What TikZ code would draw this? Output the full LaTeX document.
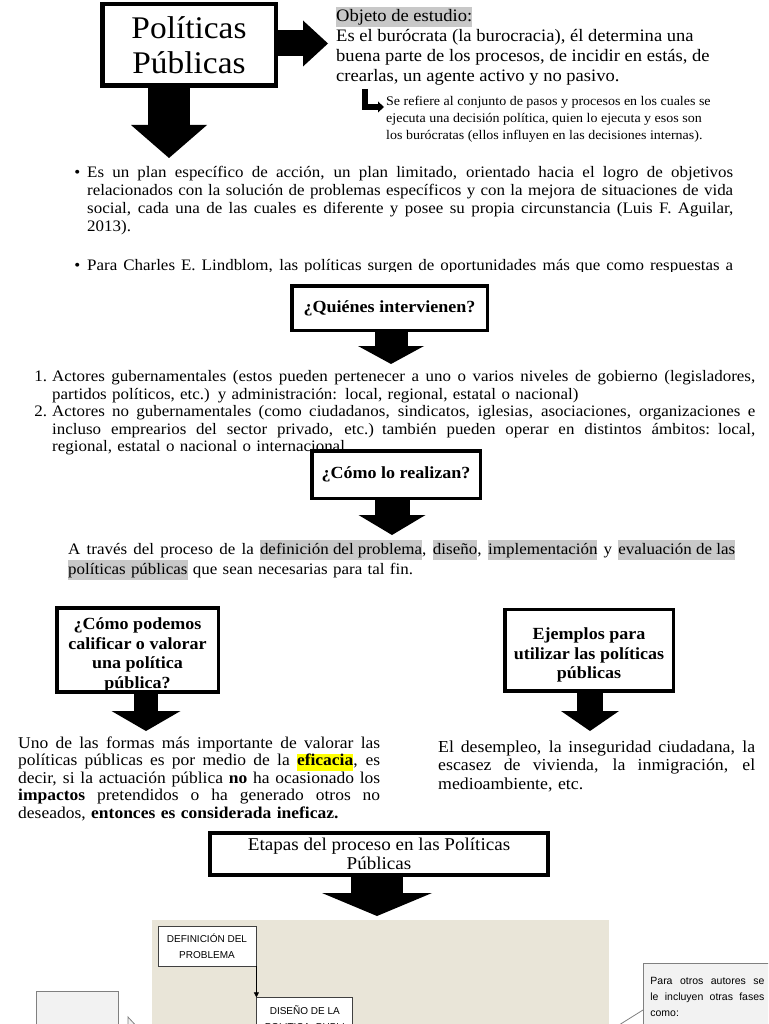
\documentclass[tikz,border=0pt]{standalone}
\usepackage{fontspec}
\setmainfont{Liberation Serif}[FakeStretch=1.06]
\setsansfont{Liberation Sans}
\usetikzlibrary{arrows.meta,positioning,calc}
\definecolor{hlgray}{RGB}{200,200,200}
\definecolor{hlyellow}{RGB}{255,255,0}
\definecolor{panelbg}{RGB}{233,229,216}
\definecolor{notefill}{RGB}{242,242,242}
\definecolor{noteline}{RGB}{128,128,128}
\setlength{\parindent}{0pt}
\setlength{\fboxsep}{0pt}
\newcommand{\hlg}[1]{\colorbox{hlgray}{\strut#1}}
\newcommand{\hly}[1]{\colorbox{hlyellow}{\strut#1}}
\newcommand{\jl}[1]{\leavevmode\hbox to \hsize{\spaceskip=\fontdimen2\font plus 1fil\relax\strut#1}}
\tikzset{
  qbox/.style={draw, line width=3.5pt, fill=white, align=center, inner sep=0pt,
    font=\bfseries\fontsize{17}{19.5}\selectfont},
  txt/.style={anchor=north west, inner sep=0pt, align=left},
  blockarrow/.style n args={3}{line width=#1pt,
    -{Triangle[width=#2pt,length=#3pt,line width=0pt]}},
  stagebox/.style={draw=black!75, line width=0.8pt, fill=white, align=center,
    font=\sffamily\fontsize{10}{16}\selectfont},
  notebox/.style={draw=noteline, line width=0.8pt, fill=notefill},
}

\begin{document}
\begin{tikzpicture}[x=1pt, y=-1pt]
  \useasboundingbox (0,0) rectangle (768,1024);
  \clip (0,0) rectangle (768,1024);

  % title and object of study
  \node[qbox, line width=4.5pt, font=\fontsize{31.5}{35}\selectfont,
        minimum width=173.5pt, minimum height=81.5pt] (pp) at (189,45) {Políticas\\Públicas};
  \node[txt, font=\fontsize{17.5}{20}\selectfont] (obj) at (336,7)
       {\hlg{Objeto de estudio:}\\Es el burócrata (la burocracia), él determina una\\
        buena parte de los procesos, de incidir en estás, de\\crearlas, un agente activo y no pasivo.};
  \node[txt, font=\fontsize{13.2}{17}\selectfont] (ref) at (386,96)
       {Se refiere al conjunto de pasos y procesos en los cuales se\\
        ejecuta una decisión política, quien lo ejecuta y esos son\\
        los burócratas (ellos influyen en las decisiones internas).};
  \coordinate (a1) at (328,43.5);
  \draw[blockarrow={26}{46}{25}] (pp.east |- a1) -- (a1);
  \coordinate (lup) at (365,89);
  \coordinate (ltip) at (384,107);
  \draw[line width=5.5pt, -{Triangle[width=11pt,length=6pt,line width=0pt]}] (lup) |- (ltip);
  \coordinate (a2) at (169,158);
  \draw[blockarrow={42}{76}{33}] (pp.south -| a2) -- (a2);

  \node[txt, text width=646pt, font=\fontsize{16}{18}\selectfont] (plan) at (87,165)
       {\jl{\llap{\textbullet\hspace{7pt}}Es un plan específico de acción, un plan limitado, orientado hacia el logro de objetivos}\\
        \jl{relacionados con la solución de problemas específicos y con la mejora de situaciones de vida}\\
        \jl{social, cada una de las cuales es diferente y posee su propia circunstancia (Luis F. Aguilar,}\\
        \strut 2013).};
  \begin{scope}
    \clip (0,250) rectangle (768,271);
    \node[txt, text width=646pt, font=\fontsize{16}{18}\selectfont] (lind) at (87,258)
         {\jl{\llap{\textbullet\hspace{7pt}}Para Charles E. Lindblom, las políticas surgen de oportunidades más que como respuestas a}};
  \end{scope}

  % who takes part
  \node[qbox, minimum width=195.5pt, minimum height=44.5pt] (qi) at (389.5,308) {¿Quiénes intervienen?};
  \coordinate (a3) at (391,364);
  \draw[blockarrow={33}{66}{18}] (qi.south -| a3) -- (a3);
  \node[txt, text width=703pt, font=\fontsize{16}{17.5}\selectfont] (act) at (52,369.5)
       {\jl{\llap{1.\hspace{5pt}}Actores gubernamentales (estos pueden pertenecer a uno o varios niveles de gobierno (legisladores,}\\
        \strut partidos políticos, etc.) y administración: local, regional, estatal o nacional)\\
        \jl{\llap{2.\hspace{5pt}}Actores no gubernamentales (como ciudadanos, sindicatos, iglesias, asociaciones, organizaciones e}\\
        \jl{incluso emprearios del sector privado, etc.) también pueden operar en distintos ámbitos: local,}\\
        \strut regional, estatal o nacional o internacional};

  % how
  \node[qbox, minimum width=168.5pt, minimum height=47.5pt] (cr) at (396,474.5) {¿Cómo lo realizan?};
  \coordinate (a4) at (392,535);
  \draw[blockarrow={35}{67}{20}] (cr.south -| a4) -- (a4);
  \node[txt, text width=667pt, font=\fontsize{16}{20}\selectfont] (proc) at (68,540)
       {\jl{A través del proceso de la \hlg{definición del problema}, \hlg{diseño}, \hlg{implementación} y \hlg{evaluación de las}}\\
        \hlg{políticas públicas} que sean necesarias para tal fin.};

  % evaluation and examples
  \node[qbox, minimum width=161.5pt, minimum height=81.5pt] (cal) at (137.5,650)
       {\rule{0pt}{22pt}¿Cómo podemos\\calificar o valorar\\una política\\pública?};
  \coordinate (a5) at (146,731);
  \draw[blockarrow={24}{69}{20}] (cal.south -| a5) -- (a5);
  \node[txt, text width=362pt, font=\fontsize{16.5}{17.5}\selectfont] (efi) at (18,736)
       {\jl{Uno de las formas más importante de valorar las}\\
        \jl{políticas públicas es por medio de la \hly{\textbf{eficacia}}, es}\\
        \jl{decir, si la actuación pública \textbf{no} ha ocasionado los}\\
        \jl{\textbf{impactos} pretendidos o ha generado otros no}\\
        \strut deseados, \textbf{entonces es considerada ineficaz.}};

  \node[qbox, minimum width=168.5pt, minimum height=81.5pt] (ej) at (589,650)
       {\rule{0pt}{22pt}Ejemplos para\\utilizar las políticas\\públicas};
  \coordinate (a6) at (590,731);
  \draw[blockarrow={26}{58}{20}] (ej.south -| a6) -- (a6);
  \node[txt, text width=317pt, font=\fontsize{16.8}{18.5}\selectfont] (ejm) at (438,739)
       {\jl{El desempleo, la inseguridad ciudadana, la}\\
        \jl{escasez de vivienda, la inmigración, el}\\
        \strut medioambiente, etc.};

  % stages
  \node[qbox, line width=4pt, font=\fontsize{18}{19.5}\selectfont,
        minimum width=338pt, minimum height=42pt] (et) at (379,854)
       {Etapas del proceso en las Políticas\\Públicas};
  \coordinate (a7) at (377,916);
  \draw[blockarrow={52}{110}{23}] (et.south -| a7) -- (a7);

  \node[fill=panelbg, anchor=north west, inner sep=0pt,
        minimum width=457pt, minimum height=110pt] (panel) at (152,920) {};
  \node[stagebox, minimum width=98pt, minimum height=40pt] (def) at (207,946) {DEFINICIÓN DEL\\PROBLEMA};
  \node[stagebox, anchor=north west, minimum width=96pt, minimum height=40pt,
        below right=31pt and 0pt of def.south east] (dis) {DISEÑO DE LA\\POLITICA\ \ PUBLI};
  \draw[line width=0.6pt, -{Triangle[length=5pt,width=5pt]}] (def.south east) -- (dis.north west);

  \node[notebox, anchor=north west, minimum width=82pt, minimum height=60pt] (lbox) at (36,991) {};
  \coordinate (ltail) at (128,1017);
  \draw[noteline, fill=notefill, line width=0.8pt] (128,1030) -- (ltail) -- (140,1030);

  \node[notebox, anchor=north west, text width=114pt, minimum height=64pt, inner xsep=7pt,
        font=\sffamily\fontsize{10.5}{16}\selectfont, align=left] (otros) at (643,963)
       {\jl{Para otros autores se}\\\jl{le incluyen otras fases}\\como:};
  \coordinate (rtail) at (619,1025);
  \draw[noteline, line width=0.8pt] (otros.west |- 0,1010) -- (rtail);
\end{tikzpicture}
\end{document}
